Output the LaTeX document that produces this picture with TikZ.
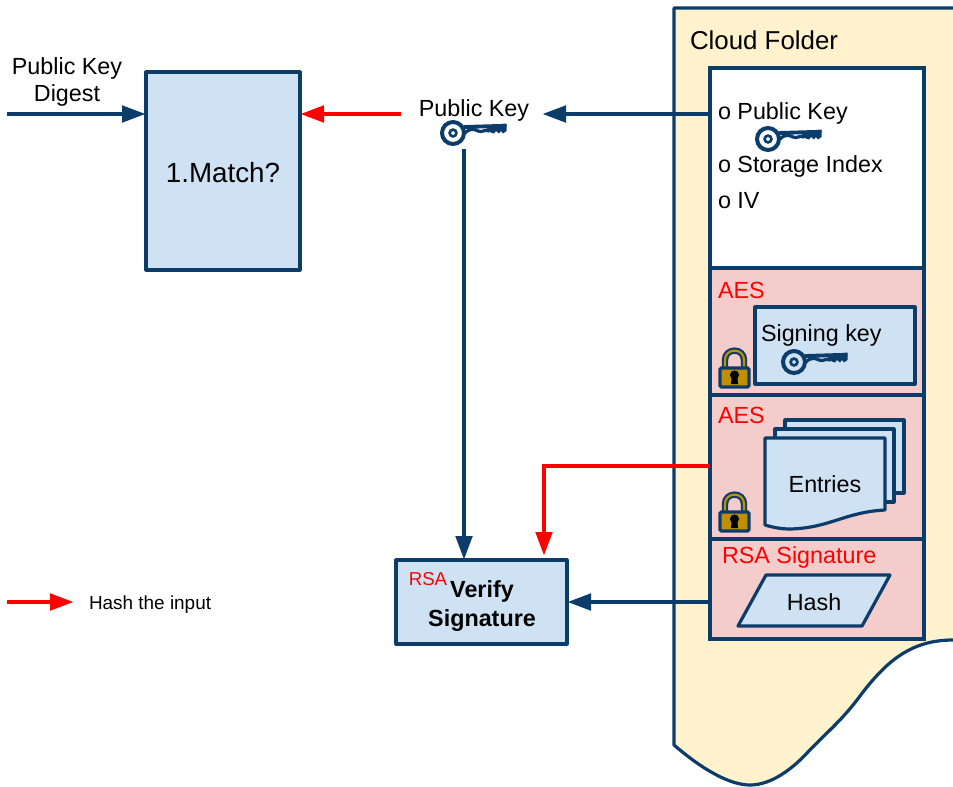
\documentclass[tikz,border=0pt]{standalone}
\usepackage{fontspec}
\setmainfont{Liberation Sans}
\usetikzlibrary{arrows.meta,calc}
\definecolor{navy}{HTML}{0B3C6A}
\definecolor{boxblue}{HTML}{CFE2F3}
\definecolor{boxpink}{HTML}{F4CCCC}
\definecolor{cream}{HTML}{FFF2CC}
\definecolor{gold}{HTML}{BF9000}
\newcommand{\fs}[1]{\fontsize{#1}{#1}\selectfont}
\tikzset{
  x=0.75pt,y=-0.75pt,
  every node/.style={font=\fs{17.5}, text=black, inner sep=0pt, outer sep=0pt},
  box/.style={draw=navy,line width=2.4pt,fill=boxblue,anchor=north west,inner sep=0pt,line join=round},
  panel/.style={draw=navy,line width=2.4pt,anchor=north west,inner sep=0pt},
  wire/.style={draw=navy,line width=2.3pt,-{Triangle[length=17.5pt,width=12.5pt]},shorten >=0.5pt},
  hashwire/.style={draw=red,line width=2.3pt,-{Triangle[length=17.5pt,width=12.5pt]},shorten >=0.5pt},
  redlabel/.style={text=red},
  keypic/.pic={
    \draw[navy,line width=3pt] (0,0) circle (11);
    \draw[navy,line width=2pt] (0,0) circle (3.4);
    \draw[navy,line width=2.9pt,line cap=round] (11,-6) -- (52,-7.2);
    \draw[navy,line width=2.4pt,line cap=round] (12,0) .. controls (17,-5) and (21,-4) .. (25,-2) .. controls (29,0) and (31,-4) .. (36,-2);
    \fill[navy] (34,-7) -- (53.5,-9.5) -- (53.5,-2) -- (50,0.5) -- (48,-2) -- (46,0.5) -- (43,-2) -- (41,0.5) -- (38,-0.5) -- (34,-3) -- cycle;
  },
  lockpic/.pic={
    \draw[navy,line width=4.8pt] (-9.5,0) -- (-9.5,-8) .. controls (-9.5,-20.5) and (9.5,-20.5) .. (9.5,-8) -- (9.5,0);
    \draw[gold,line width=1.6pt] (-9.5,0) -- (-9.5,-8) .. controls (-9.5,-20.5) and (9.5,-20.5) .. (9.5,-8) -- (9.5,0);
    \draw[navy,line width=2.4pt,fill=gold,rounded corners=1pt] (-14.5,0) rectangle (14.5,19);
    \fill[black] (0,7) circle (4.6);
    \fill[black] (-2.6,8) -- (2.6,8) -- (3.6,16) -- (-3.6,16) -- cycle;
  }
}
\begin{document}
\begin{tikzpicture}
\useasboundingbox (0,0) rectangle (953,786);
\clip (0,0) rectangle (953,786);
% cloud folder
\draw[navy,line width=2.4pt,fill=cream,line join=round]
  (674,745) -- (674,8) -- (960,8) -- (960,640) -- (953,640)
  .. controls (910,640) and (885,662) .. (857,700)
  .. controls (840,722) and (826,733) .. (807,753)
  .. controls (793,768) and (772,785) .. (750,785)
  .. controls (730,785) and (703,770) .. (674,745) -- cycle;
\node[anchor=west,font=\fs{19.4}] (cloud) at (690,40) {Cloud Folder};
% panels
\node[panel,fill=white,minimum width=214*0.75pt,minimum height=200*0.75pt] (head) at (710,68) {};
\node[panel,fill=boxpink,minimum width=214*0.75pt,minimum height=127*0.75pt] (keypanel) at (710,268) {};
\node[panel,fill=boxpink,minimum width=214*0.75pt,minimum height=144*0.75pt] (entrypanel) at (710,395) {};
\node[panel,fill=boxpink,minimum width=214*0.75pt,minimum height=100*0.75pt] (sigpanel) at (710,539) {};
\node[anchor=west] (oa) at (718,113) {o Public Key};
\node[anchor=west] (ob) at (718,166) {o Storage Index};
\node[anchor=west] (oc) at (718,201) {o IV};
\pic at (768,139) {keypic};
\node[anchor=west,redlabel] (aesa) at (718,290) {AES};
\node[box,minimum width=160*0.75pt,minimum height=77*0.75pt] (signbox) at (755,307) {};
\node[anchor=west] (signtext) at (761,335) {Signing key};
\pic at (794,362) {keypic};
\pic at (734.5,368) {lockpic};
\node[anchor=west,redlabel] (aesb) at (718,415) {AES};
% entries
\draw[navy,line width=2.4pt,fill=boxblue,line join=round] (785,420) -- (904,420) -- (904,493) -- (785,493) -- cycle;
\draw[navy,line width=2.4pt,fill=boxblue,line join=round] (775,429) -- (894,429) -- (894,502) -- (775,502) -- cycle;
\draw[navy,line width=2.4pt,fill=boxblue,line join=round] (765,438) -- (885,438) -- (885,510)
  .. controls (845,512) and (830,528) .. (790,529) .. controls (780,529) and (772,527) .. (765,525) -- cycle;
\node (entries) at (825,484) {Entries};
\pic at (734.5,512) {lockpic};
\node[anchor=west,redlabel] (rsasig) at (722,557) {RSA Signature};
\draw[navy,line width=2.4pt,fill=boxblue,line join=round] (738,626) -- (766,575) -- (890,575) -- (862,626) -- cycle;
\node (hash) at (814,602) {Hash};
% match
\node[box,minimum width=154*0.75pt,minimum height=198*0.75pt] (match) at (146,72) {};
\node[font=\fs{20.8}] (matchtext) at (223,173) {1.Match?};
\node[align=center] (digest) at (67,82) {Public Key\\[3pt]Digest};
\coordinate (digestin) at (7,114);
\draw[wire] (digestin) -- (digestin -| match.west);
% public key
\node (pk) at (474,110) {Public Key};
\pic at (453,133) {keypic};
\coordinate (pkwest) at (401,114);
\coordinate (pkeast) at (542,114);
\coordinate (keyfoot) at (464,149);
\draw[hashwire] (pkwest) -- (pkwest -| match.east);
\draw[wire] (pkeast -| head.west) -- (pkeast);
% verify
\node[box,minimum width=171*0.75pt,minimum height=84*0.75pt] (verify) at (396,560) {};
\node[align=center,font=\fs{17.5}\bfseries] (verifytext) at (482,606) {Verify\\[4pt]Signature};
\node[redlabel,font=\fs{14}] (rsa) at (428,579) {RSA};
\draw[wire] (keyfoot) -- (keyfoot |- verify.north);
\coordinate (entryout) at (710,466);
\coordinate (verifyin) at (544,556);
\draw[hashwire] (entryout) -- (entryout -| verifyin) -- (verifyin);
\coordinate (sigout) at (710,602);
\draw[wire] (sigout) -- (sigout -| verify.east);
% legend
\coordinate (lega) at (7,602);
\coordinate (legb) at (74,602);
\draw[hashwire] (lega) -- (legb);
\node[anchor=west,font=\fs{14.2}] (legend) at (89,605) {Hash the input};
\end{tikzpicture}
\end{document}
